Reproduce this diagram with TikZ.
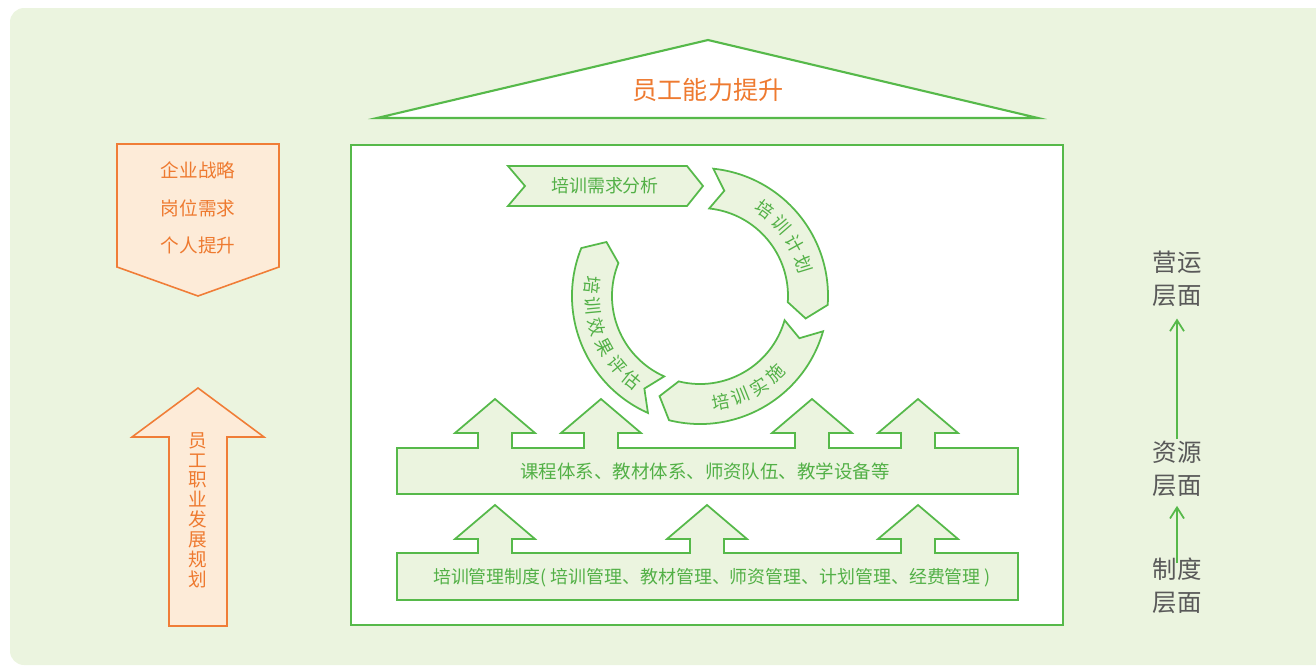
\documentclass[tikz,border=0pt]{standalone}
\usepackage{fontspec}
\setmainfont{Noto Sans CJK SC}
\usetikzlibrary{arrows.meta, calc}

\definecolor{bggreen}{RGB}{235,244,223}
\definecolor{linegreen}{RGB}{86,185,74}
\definecolor{textgreen}{RGB}{82,176,70}
\definecolor{orangeline}{RGB}{240,125,55}
\definecolor{orangefill}{RGB}{253,235,216}
\definecolor{orangeink}{RGB}{238,122,48}
\definecolor{grayink}{RGB}{89,89,89}

\begin{document}
\begin{tikzpicture}[x=0.02cm, y=0.02cm,
  greenline/.style={draw=linegreen, line width=1pt},
  panel/.style={greenline, fill=white},
  bar/.style={greenline, fill=bggreen},
  ringtext/.style={text=textgreen, font=\fontsize{10.2}{12}\selectfont, inner sep=0pt},
  bartext/.style={text=textgreen, font=\fontsize{10.5}{12}\selectfont},
  rooftext/.style={text=orangeink, font=\fontsize{14.3}{16}\selectfont},
  orangebox/.style={draw=orangeline, line width=0.9pt, fill=orangefill},
  orangetext/.style={text=orangeink, align=center, font=\fontsize{10.6}{21.3}\selectfont},
  layertext/.style={text=grayink, align=center, inner sep=1pt, font=\fontsize{13.9}{18.7}\selectfont},
  layerarrow/.style={draw=linegreen, line width=1pt, -{Straight Barb[length=2.2mm, width=2.8mm]}}
]
\useasboundingbox (0,0) rectangle (1316,-667);

% background
\fill[bggreen, rounded corners=8pt] (10,-8) rectangle (1345,-665);

% roof
\draw[panel, line width=1.2pt] (377,-118) -- (708,-40) -- (1038,-118) -- cycle;
\node[rooftext] (lift) at (708,-90) {员工能力提升};

% main frame
\draw[panel] (351,-145) rectangle (1063,-625);

% training cycle
\draw[bar] (508,-166) -- (687,-166) -- (703,-186) -- (687,-206) -- (508,-206) -- (525,-186) -- cycle;
\node[ringtext] (demand) at (605,-186) {培训需求分析};

\coordinate (hub) at (700,-296);
\foreach \a in {84,-16,-114}
  \draw[bar] ($(hub)+(\a:128)$) arc[start angle=\a, delta angle=-88, radius=128]
    -- ($(hub)+(\a-96:108)$) -- ($(hub)+(\a-88:88)$)
    arc[start angle=\a-88, delta angle=88, radius=88]
    -- ($(hub)+(\a-7:108)$) -- cycle;

\foreach \ch [count=\i, evaluate=\i as \ang using 65-12*\i] in {培,训,计,划}
  \node[ringtext, rotate=\ang-90] (plan\i) at ($(hub)+(\ang:108)$) {\ch};
\foreach \ch [count=\i, evaluate=\i as \ang using -90+11*\i] in {培,训,实,施}
  \node[ringtext, rotate=\ang+90] (act\i) at ($(hub)+(\ang:108)$) {\ch};
\foreach \ch [count=\i, evaluate=\i as \ang using 162.6+11.4*\i] in {培,训,效,果,评,估}
  \node[ringtext, rotate=\ang+90] (eval\i) at ($(hub)+(\ang:108)$) {\ch};

% resource bar
\draw[bar] (397,-494) -- (397,-448)
  \foreach \x in {495,601,812,918} { -- (\x-17,-448) -- (\x-17,-433) -- (\x-40,-433) -- (\x,-399) -- (\x+40,-433) -- (\x+17,-433) -- (\x+17,-448) }
  -- (1018,-448) -- (1018,-494) -- cycle;
\node[bartext] (resources) at (705,-471) {课程体系、教材体系、师资队伍、教学设备等};

% rules bar
\draw[bar] (397,-600) -- (397,-553)
  \foreach \x in {495,707,918} { -- (\x-17,-553) -- (\x-17,-539) -- (\x-40,-539) -- (\x,-505) -- (\x+40,-539) -- (\x+17,-539) -- (\x+17,-553) }
  -- (1018,-553) -- (1018,-600) -- cycle;
\node[bartext, font=\fontsize{10.2}{12}\selectfont] (rules) at (712,-578) {培训管理制度( 培训管理、教材管理、师资管理、计划管理、经费管理 )};

% left side
\draw[orangebox] (117,-144) -- (279,-144) -- (279,-267) -- (198,-296) -- (117,-267) -- cycle;
\node[orangetext] (goals) at (198,-208) {企业战略\\岗位需求\\个人提升};

\draw[orangebox] (198,-388) -- (264,-437) -- (227,-437) -- (227,-626) -- (169,-626) -- (169,-437) -- (132,-437) -- cycle;
\node[orangetext, font=\fontsize{10.6}{11.3}\selectfont] (career) at (198,-510) {员\\工\\职\\业\\发\\展\\规\\划};

% right side
\node[layertext] (ops) at (1177,-279) {营运\\层面};
\node[layertext] (res) at (1177,-469) {资源\\层面};
\node[layertext] (sys) at (1177,-586) {制度\\层面};
\draw[layerarrow, shorten >=5.5pt] (res) -- (ops);
\draw[layerarrow, shorten <=-4pt, shorten >=4pt] (sys) -- (res);

\end{tikzpicture}
\end{document}
